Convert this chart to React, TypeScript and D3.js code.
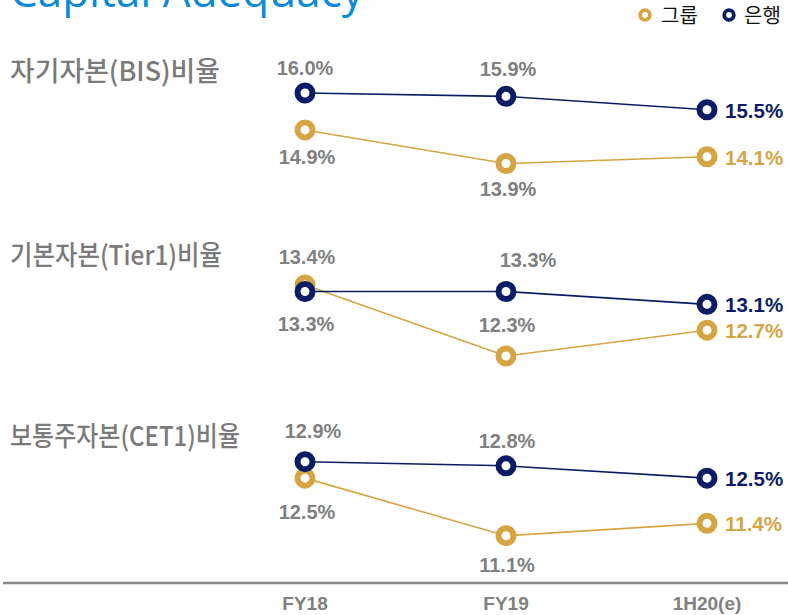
import React from 'react';
import * as d3 from 'd3';

// data
const categories = ['FY18', 'FY19', '1H20(e)'];
const panelTitles = ['자기자본(BIS)비율', '기본자본(Tier1)비율', '보통주자본(CET1)비율'];
const groupBIS = [14.9, 13.9, 14.1];
const bankBIS = [16.0, 15.9, 15.5];
const groupTier1 = [13.4, 12.3, 12.7];
const bankTier1 = [13.3, 13.3, 13.1];
const groupCET1 = [12.5, 11.1, 11.4];
const bankCET1 = [12.9, 12.8, 12.5];
const legendLabels = ['그룹', '은행'];

const W = 788;
const H = 615;
const GOLD = '#D6A443';
const NAVY = '#0B1C66';
const GREY = '#808080';
const NUM_FONT = '"Liberation Sans", Arial, sans-serif';
const KR_FONT = '"Noto Sans CJK KR", "Noto Sans", sans-serif';

// layout per panel: pixel band for the value range, title baseline/width, label offsets [dx, dy]
const panels = [
  {
    title: panelTitles[0], group: groupBIS, bank: bankBIS, top: 93, bottom: 163.5, titleY: 81, titleW: 210,
    groupOff: [[2, 34], [2, 32]], bankOff: [[0, -18], [2, -20]],
  },
  {
    title: panelTitles[1], group: groupTier1, bank: bankTier1, top: 285, bottom: 356, titleY: 265, titleW: 212,
    groupOff: [[2, -21], [1, -24]], bankOff: [[1, 40], [22, -24]],
  },
  {
    title: panelTitles[2], group: groupCET1, bank: bankCET1, top: 461.7, bottom: 535.7, titleY: 446, titleW: 230,
    groupOff: [[2, 41], [1, 36]], bankOff: [[8, -24], [1, -18]],
  },
];

const x = d3.scalePoint<string>().domain(categories).range([305, 707]);

const Ring = ({ cx, cy, color, r = 7.5, sw = 6 }: any) => (
  <circle cx={cx} cy={cy} r={r} fill="#fff" stroke={color} strokeWidth={sw} />
);

const Panel = ({ p }: any) => {
  const ext = d3.extent([...p.group, ...p.bank]) as [number, number];
  const y = d3.scaleLinear().domain(ext).range([p.bottom, p.top]);
  const line = d3.line<number>().x((_, i) => x(categories[i])!).y(d => y(d));
  const last = categories.length - 1;
  const series = [
    { vals: p.group, color: GOLD, off: p.groupOff },
    { vals: p.bank, color: NAVY, off: p.bankOff },
  ];
  return (
    <g>
      <text x={10} y={p.titleY} fontFamily={KR_FONT} fontSize={27} fontWeight={500} fill="#7A7A7A"
        textLength={p.titleW} lengthAdjust="spacingAndGlyphs">
        {p.title}
      </text>
      {series.map((s, si) => (
        <path key={'l' + si} d={line(s.vals)!} fill="none" stroke={s.color} strokeWidth={1.6} />
      ))}
      {series.map((s, si) =>
        s.vals.map((v: number, i: number) => (
          <Ring key={'m' + si + i} cx={x(categories[i])} cy={y(v)} color={s.color} />
        ))
      )}
      {series.map((s, si) =>
        s.vals.map((v: number, i: number) => {
          const cx = x(categories[i])!;
          const cy = y(v);
          if (i === last) {
            return (
              <text key={'t' + si + i} x={cx + 18} y={cy + 8} fontFamily={NUM_FONT} fontWeight="bold" fontSize={20.5} fill={s.color}>
                {v.toFixed(1)}%
              </text>
            );
          }
          const [dx, dy] = s.off[i];
          return (
            <text key={'t' + si + i} x={cx + dx} y={cy + dy} textAnchor="middle" fontFamily={NUM_FONT} fontWeight="bold" fontSize={20} fill={GREY}>
              {v.toFixed(1)}%
            </text>
          );
        })
      )}
    </g>
  );
};

export default function App() {
  return (
    <svg width={W} height={H} style={{ position: 'absolute', left: 0, top: 0, background: '#fff' }}>
      <text x={10} y={7} fontFamily='"Open Sans", sans-serif' fontSize={44} fill="#0A8AD8">
        Capital Adequacy
      </text>
      {/* legend */}
      <g>
        <Ring cx={645} cy={15} color={GOLD} r={4.8} sw={3.8} />
        <text x={661} y={23} fontFamily={KR_FONT} fontSize={20} fill="#111">{legendLabels[0]}</text>
        <Ring cx={729} cy={15} color={NAVY} r={4.8} sw={3.8} />
        <text x={744} y={23} fontFamily={KR_FONT} fontSize={20} fill="#111">{legendLabels[1]}</text>
      </g>
      {panels.map((p, i) => <Panel key={i} p={p} />)}
      <line x1={3} x2={W} y1={583} y2={583} stroke="#8A8A8A" strokeWidth={2.5} />
      {categories.map(c => (
        <text key={c} x={x(c)} y={610} textAnchor="middle" fontFamily={NUM_FONT} fontWeight="bold" fontSize={19} fill={GREY}>
          {c}
        </text>
      ))}
    </svg>
  );
}
